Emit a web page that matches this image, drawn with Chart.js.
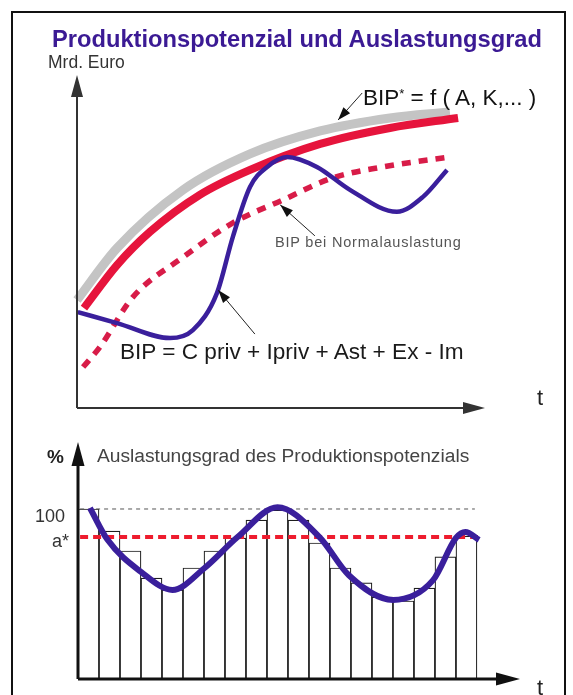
<!DOCTYPE html>
<html><head><meta charset="utf-8">
<script src="https://cdn.jsdelivr.net/npm/chart.js@4.4.0/dist/chart.umd.min.js"></script>
<style>
html,body{margin:0;padding:0;background:#fff;width:573px;height:695px;overflow:hidden;font-family:"Liberation Sans",Arial,sans-serif;}
#frame{position:absolute;left:11px;top:11px;width:551px;height:720px;border:2px solid #111;}
canvas{position:absolute;left:0;}
.t{position:absolute;white-space:nowrap;line-height:1;transform:translateY(-50%);}
</style></head><body>
<div id="frame"></div>
<canvas id="top" width="573" height="420" style="top:0"></canvas>
<canvas id="bot" width="573" height="265" style="top:430px"></canvas>

<div class="t" style="left:52px;top:40px;font-weight:bold;font-size:23.7px;color:#3b1a94">Produktionspotenzial und Auslastungsgrad</div>
<div class="t" style="left:48px;top:63px;font-size:17.5px;color:#333">Mrd. Euro</div>
<div class="t" style="left:363px;top:98px;font-size:22.5px;color:#111">BIP<sup style="font-size:13px;vertical-align:7px">*</sup> = f ( A, K,... )</div>
<div class="t" style="left:275px;top:242px;font-size:14.5px;color:#555;letter-spacing:0.8px">BIP bei Normalauslastung</div>
<div class="t" style="left:120px;top:352px;font-size:22.6px;color:#1a1a1a">BIP = C priv + Ipriv + Ast + Ex - Im</div>
<div class="t" style="left:537px;top:398px;font-size:22px;color:#222">t</div>
<div class="t" style="left:47px;top:456px;font-size:19px;font-weight:bold;color:#222">%</div>
<div class="t" style="left:97px;top:456px;font-size:19.2px;color:#444">Auslastungsgrad des Produktionspotenzials</div>
<div class="t" style="left:35px;top:516px;font-size:18px;color:#333">100</div>
<div class="t" style="left:52px;top:541px;font-size:18px;color:#333">a*</div>
<div class="t" style="left:537px;top:688px;font-size:22px;color:#222">t</div>

<script>
// ---------- Top panel data (t in abstract time units 0..10, Mrd. Euro 0..100) ----------
const T_POT = [0, 0.98, 2.6, 4.24, 5.96, 7.67, 9.14];
const Y_POT = [32.4, 48.0, 65.5, 76.3, 83.2, 87.1, 88.9];          // BIP* (grey)
const T_POT_RED = [0.17, 0.98, 1.79, 3.01, 4.24, 5.96, 7.67, 9.34];
const Y_POT_RED = [30.0, 42.9, 52.9, 64.0, 71.5, 79.3, 84.1, 87.1]; // potential (red)
const T_NORM = [0.15, 0.56, 1.37, 2.6, 3.82, 5.05, 6.27, 7.5, 9.14];
const Y_NORM = [12.3, 18.3, 33.3, 45.3, 55.6, 62.5, 69.1, 72.4, 75.4]; // BIP bei Normalauslastung
const T_BIP = [0.02, 0.98, 2.28, 2.84, 3.43, 3.82, 4.24, 4.66, 5.15, 5.88, 6.69, 7.84, 8.48, 9.07];
const Y_BIP = [28.8, 25.5, 21.0, 23.4, 34.5, 51.4, 66.4, 72.4, 75.4, 72.4, 65.5, 58.9, 63.4, 71.5];

// annotation arrows: [fromT, fromY, toT, toY] (head at "to")
const ARROW_POT = [6.99, 94.6, 6.40, 86.5];
const ARROW_NORM = [5.83, 51.7, 4.98, 61.0];
const ARROW_BIP = [4.36, 22.2, 3.46, 35.4];

// ---------- Bottom panel data (%) ----------
const PERIODS = [0,1,2,3,4,5,6,7,8,9,10,11,12,13,14,15,16,17,18];
const UTIL_BARS = [100, 87, 75.3, 59.4, 52.4, 65.3, 75.3, 82.9, 93.5, 99.4, 93.5, 80, 65.3, 56.5, 48.2, 45.9, 53.5, 71.8, 84.1];
const WAVE_T = [0.07, 0.9, 2.5, 4.0, 5.5, 7.1, 9.0, 11.0, 12.4, 14.5, 16.4, 17.5, 17.95, 18.6];
const WAVE_Y = [100.6, 82, 63, 52.4, 65, 83.5, 101, 83.5, 61, 46.5, 58, 83, 86.5, 81.8];
const A_STAR = 83.5;
const FULL = 100;
const A_STAR_SPAN = [-0.4, 18.55];
const FULL_SPAN = [-0.4, 18.4];

const pts = (xs, ys) => xs.map((x, i) => ({x, y: ys[i]}));

function arrowHead(ctx, x1, y1, x2, y2, len, w, color) {
  const a = Math.atan2(y2 - y1, x2 - x1);
  ctx.save();
  ctx.fillStyle = color;
  ctx.beginPath();
  ctx.moveTo(x2, y2);
  ctx.lineTo(x2 - len * Math.cos(a) + w / 2 * Math.sin(a), y2 - len * Math.sin(a) - w / 2 * Math.cos(a));
  ctx.lineTo(x2 - len * Math.cos(a) - w / 2 * Math.sin(a), y2 - len * Math.sin(a) + w / 2 * Math.cos(a));
  ctx.closePath();
  ctx.fill();
  ctx.restore();
}

const axesPlugin = {
  id: 'arrowAxes',
  afterDatasetsDraw(chart, args, opts) {
    const {ctx, chartArea: a} = chart;
    ctx.save();
    ctx.strokeStyle = opts.color; ctx.lineWidth = opts.lineWidth;
    ctx.beginPath();
    ctx.moveTo(a.left, a.bottom); ctx.lineTo(a.left, a.top + opts.headLen - 2);
    ctx.moveTo(a.left, a.bottom); ctx.lineTo(a.right - opts.headLen + 2, a.bottom);
    ctx.stroke();
    arrowHead(ctx, a.left, a.bottom, a.left, a.top, opts.headLen, opts.headW, opts.color);
    arrowHead(ctx, a.left, a.bottom, a.right, a.bottom, opts.headLen, opts.headW, opts.color);
    const xs = chart.scales.x, ys = chart.scales.y;
    (opts.arrows || []).forEach(ar => {
      const x1 = xs.getPixelForValue(ar[0]), y1 = ys.getPixelForValue(ar[1]);
      const x2 = xs.getPixelForValue(ar[2]), y2 = ys.getPixelForValue(ar[3]);
      ctx.strokeStyle = '#222'; ctx.lineWidth = 1;
      ctx.beginPath(); ctx.moveTo(x1, y1); ctx.lineTo(x2, y2); ctx.stroke();
      arrowHead(ctx, x1, y1, x2, y2, 13, 9, '#111');
    });
    ctx.restore();
  }
};

new Chart(document.getElementById('top'), {
  type: 'line',
  data: {datasets: [
    {data: pts(T_BIP, Y_BIP), borderColor: '#3a1f9c', borderWidth: 4.5, cubicInterpolationMode: 'monotone', order: 1},
    {data: pts(T_NORM, Y_NORM), borderColor: '#d81c48', borderWidth: 5.5, borderDash: [9, 8], cubicInterpolationMode: 'monotone', order: 2},
    {data: pts(T_POT_RED, Y_POT_RED), borderColor: '#e6143c', borderWidth: 8, cubicInterpolationMode: 'monotone', order: 3},
    {data: pts(T_POT, Y_POT), borderColor: '#c4c4c4', borderWidth: 9, cubicInterpolationMode: 'monotone', order: 4}
  ]},
  options: {
    responsive: false, animation: false, devicePixelRatio: 1,
    layout: {padding: {left: 77, right: 88, top: 75, bottom: 12}},
    elements: {point: {radius: 0}, line: {borderJoinStyle: 'round'}},
    datasets: {line: {clip: false}},
    plugins: {legend: {display: false}, tooltip: {enabled: false},
      arrowAxes: {color: '#333', lineWidth: 2, headLen: 22, headW: 12, arrows: [ARROW_POT, ARROW_NORM, ARROW_BIP]}},
    scales: {x: {type: 'linear', min: 0, max: 10, display: false}, y: {min: 0, max: 100, display: false}}
  },
  plugins: [axesPlugin]
});

new Chart(document.getElementById('bot'), {
  type: 'bar',
  data: {datasets: [
    {type: 'line', data: pts(WAVE_T, WAVE_Y), borderColor: '#3a1f9c', borderWidth: 6, cubicInterpolationMode: 'monotone', pointRadius: 0, order: 1, clip: false},
    {type: 'line', data: pts(A_STAR_SPAN, [A_STAR, A_STAR]), borderColor: '#ee1c2e', borderWidth: 4, borderDash: [8, 5], pointRadius: 0, order: 2},
    {type: 'line', data: pts(FULL_SPAN, [FULL, FULL]), borderColor: '#555', borderWidth: 1, borderDash: [4, 4], pointRadius: 0, order: 3},
    {type: 'bar', data: pts(PERIODS, UTIL_BARS), backgroundColor: '#fff', borderColor: '#1e1e1e', borderWidth: 1.2, barPercentage: 1, categoryPercentage: 1, order: 4}
  ]},
  options: {
    responsive: false, animation: false, devicePixelRatio: 1,
    layout: {padding: {left: 78, right: 53, top: 12, bottom: 16}},
    plugins: {legend: {display: false}, tooltip: {enabled: false},
      arrowAxes: {color: '#111', lineWidth: 3, headLen: 24, headW: 13, arrows: []}},
    scales: {x: {type: 'linear', offset: false, min: -0.5, max: 20.55, display: false},
             y: {min: 0, max: 139.4, display: false}}
  },
  plugins: [axesPlugin]
});
</script>
</body></html>
